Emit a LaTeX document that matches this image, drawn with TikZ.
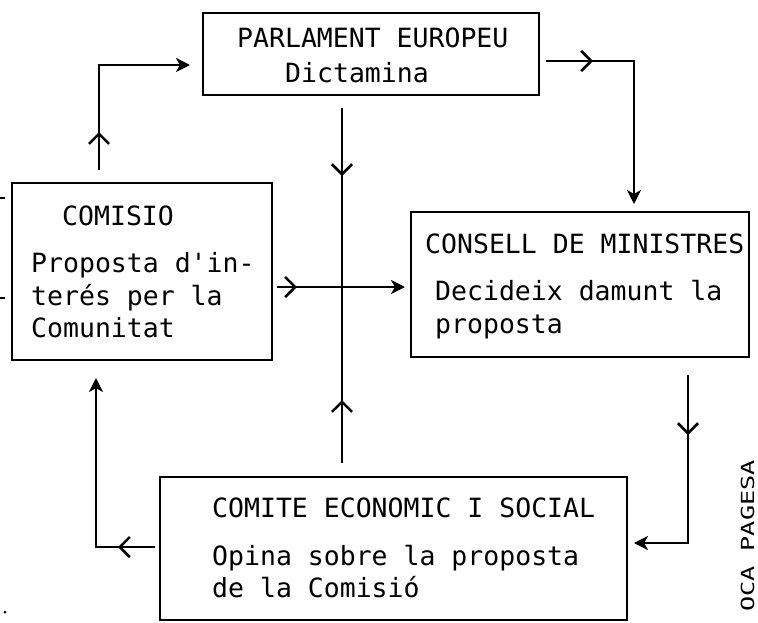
\documentclass[tikz,border=0pt]{standalone}
\usepackage{fontspec}
\setmonofont{DejaVu Sans Mono}
\usetikzlibrary{arrows.meta,decorations.markings}
\begin{document}
\begin{tikzpicture}[x=1pt,y=-1pt,
  box/.style={draw, line width=2pt, rectangle, inner sep=0pt},
  txt/.style={anchor=base west, inner sep=0pt, font=\ttfamily\fontsize{26.5}{30}\selectfont},
  conn/.style={line width=2.6pt, -{Stealth[length=14pt,width=14pt,inset=4pt]}},
  plain/.style={line width=2.6pt},
  midarrow/.style={postaction={decorate}, decoration={markings, mark=at position #1 with {\arrow{Straight Barb[length=10pt,width=20pt,line width=2.6pt]}}}},
]
\useasboundingbox (0,0) rectangle (758,622);
\fill[white] (0,0) rectangle (758,622);

% boxes
\node[box, minimum width=336pt, minimum height=82pt] (par) at (371,54) {};
\node[box, minimum width=260pt, minimum height=177pt] (com) at (142,271.5) {};
\node[box, minimum width=338pt, minimum height=145pt] (con) at (580,284.5) {};
\node[box, minimum width=467pt, minimum height=143pt] (ces) at (393.5,548.5) {};

% texts
\node[txt] (t1) at (237,47) {PARLAMENT EUROPEU};
\node[txt] (t2) at (285,82) {Dictamina};
\node[txt] (t3) at (62,225) {COMISIO};
\node[txt] (t4) at (31,272) {Proposta d'in-};
\node[txt] (t5) at (31,305) {terés per la};
\node[txt] (t6) at (31,337) {Comunitat};
\node[txt] (t7) at (425,253) {CONSELL DE MINISTRES};
\node[txt] (t8) at (435,300) {Decideix damunt la};
\node[txt] (t9) at (435,333) {proposta};
\node[txt] (t10) at (212,517) {COMITE ECONOMIC I SOCIAL};
\node[txt] (t11) at (212,565) {Opina sobre la proposta};
\node[txt] (t12) at (212,597) {de la Comisió};

\node[anchor=base east, rotate=90, inner sep=0pt, font=\ttfamily\fontsize{18}{20}\selectfont] (side) at (754,460) {\scalebox{1.4}[1]{OCA PAGESA}};

% connector end coordinates
\coordinate (a0) at (99,170);
\coordinate (a1) at (99,65);
\coordinate (a2) at (190,65);
\coordinate (b0) at (546,61);
\coordinate (b1) at (634,61);
\coordinate (b2) at (634,204);
\coordinate (c0) at (342,108);
\coordinate (cx) at (342,287);
\coordinate (c1) at (342,463);
\coordinate (d0) at (277,287);
\coordinate (d1) at (405,287);
\coordinate (e0) at (155,547);
\coordinate (e1) at (96,547);
\coordinate (e2) at (96,378);
\coordinate (f0) at (688,375);
\coordinate (f1) at (688,543);
\coordinate (f2) at (634,543);

% connectors
\draw[conn, midarrow=38pt] (a0) -- (a1) -- (a2);
\draw[conn, midarrow=47pt] (b0) -- (b1) -- (b2);
\draw[plain, midarrow=68pt] (c0) -- (cx);
\draw[plain, midarrow=63pt] (c1) -- (cx);
\draw[conn, midarrow=20pt] (d0) -- (d1);
\draw[conn, midarrow=37pt] (e0) -- (e1) -- (e2);
\draw[conn, midarrow=60pt] (f0) -- (f1) -- (f2);

% margin marks
\draw[line width=1.2pt] (0,198) -- (5,198);
\draw[line width=1.2pt] (0,298) -- (5,298);
\fill (5,612) circle (1.5pt);
\end{tikzpicture}
\end{document}
